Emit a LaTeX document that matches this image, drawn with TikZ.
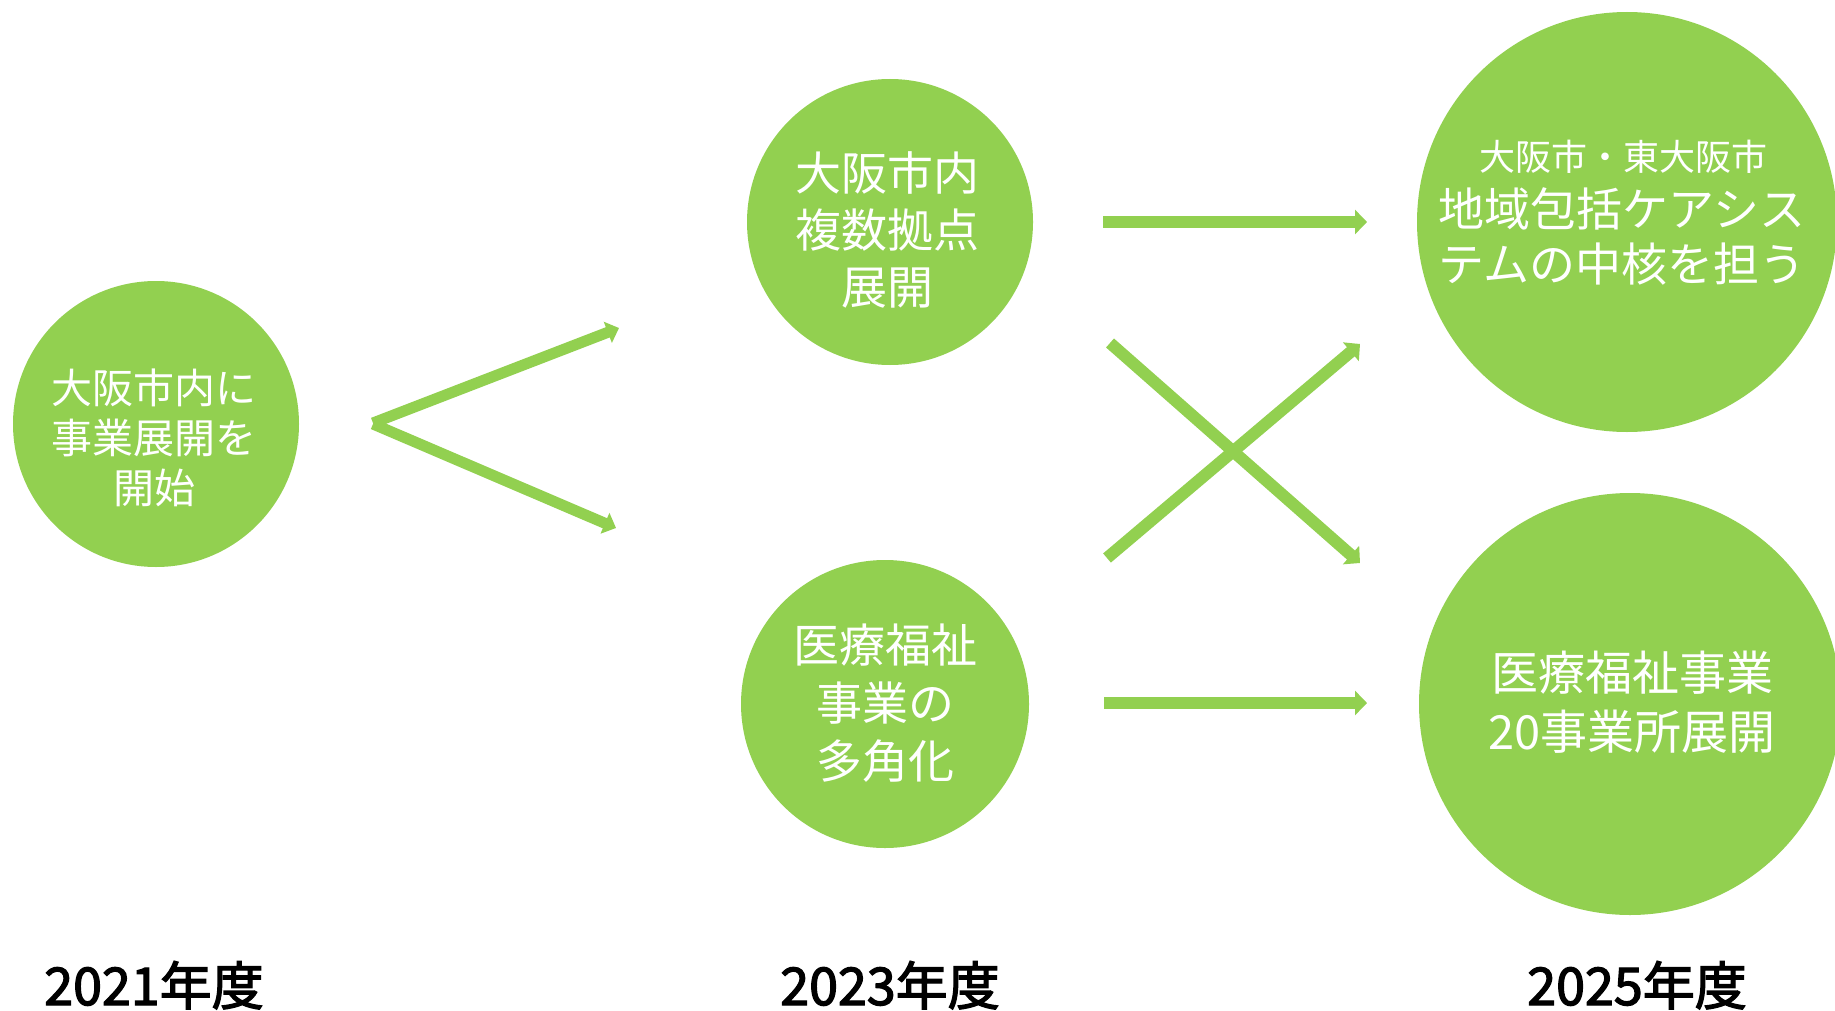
\documentclass[tikz,border=0pt]{standalone}
\usepackage{fontspec}
\newfontfamily\cjk{Noto Sans CJK JP}
\newfontfamily\cjkyear[FakeBold=2.5]{Noto Sans CJK JP}
\usetikzlibrary{arrows.meta}
\definecolor{leaf}{HTML}{92D050}
\begin{document}
\begin{tikzpicture}[x=1pt,y=-1pt,
  disc/.style={circle, fill=leaf, minimum size=#1, inner sep=0pt},
  lbl/.style={text=white, align=center, inner sep=0pt},
  flow/.style={draw=leaf, line width=12pt, -{Triangle[length=12pt,width=24pt]}},
  flowthin/.style={draw=leaf, line width=11pt, -{Triangle[length=12pt,width=22pt]}},
  yearlbl/.style={font=\cjkyear\fontsize{52}{52}\selectfont, anchor=base, inner sep=0pt, text=black}]
\useasboundingbox (0,0) rectangle (1835,1011);
\fill[white] (0,0) rectangle (1835,1011);

% circles
\node[disc=286pt] (c1) at (156,424) {};
\node[disc=286pt] (c2) at (890,222) {};
\node[disc=288pt] (c3) at (885,704) {};
\node[disc=420pt] (c4) at (1627,222) {};
\node[disc=422pt] (c5) at (1630,704) {};

% texts
\node[lbl, font=\cjk\fontsize{41}{50}\selectfont] (t1) at (154,438) {大阪市内に\\事業展開を\\開始};
\node[lbl, font=\cjk\fontsize{46}{57}\selectfont] (t2) at (887,230) {大阪市内\\複数拠点\\展開};
\node[lbl, font=\cjk\fontsize{46}{58}\selectfont] (t3) at (885,703) {医療福祉\\事業の\\多角化};
\node[lbl, font=\cjk\fontsize{36}{40}\selectfont] (t4a) at (1623,157) {大阪市・東大阪市};
\node[lbl, font=\cjk\fontsize{46}{55}\selectfont] (t4b) at (1622,236) {地域包括ケアシス\\テムの中核を担う};
\node[lbl, font=\cjk\fontsize{47}{59}\selectfont] (t5) at (1632,702) {医療福祉事業\\20事業所展開};

% year labels
\node[yearlbl] (y1) at (154,1005) {2021年度};
\node[yearlbl] (y2) at (890,1005) {2023年度};
\node[yearlbl] (y3) at (1637,1005) {2025年度};

% arrow end points
\coordinate (a1s) at (373,423);
\coordinate (a1e) at (619,328);
\coordinate (a2s) at (373,424);
\coordinate (a2e) at (616,528);
\coordinate (b1s) at (1103,222);
\coordinate (b1e) at (1367,222);
\coordinate (b2s) at (1104,703);
\coordinate (b2e) at (1367,703);
\coordinate (x1s) at (1110,343);
\coordinate (x1e) at (1360,563);
\coordinate (x2s) at (1107,558);
\coordinate (x2e) at (1360,344);

\draw[flowthin] (a1s) -- (a1e);
\draw[flowthin] (a2s) -- (a2e);
\draw[flow] (b1s) -- (b1e);
\draw[flow] (b2s) -- (b2e);
\draw[flow] (x1s) -- (x1e);
\draw[flow] (x2s) -- (x2e);
\end{tikzpicture}
\end{document}
